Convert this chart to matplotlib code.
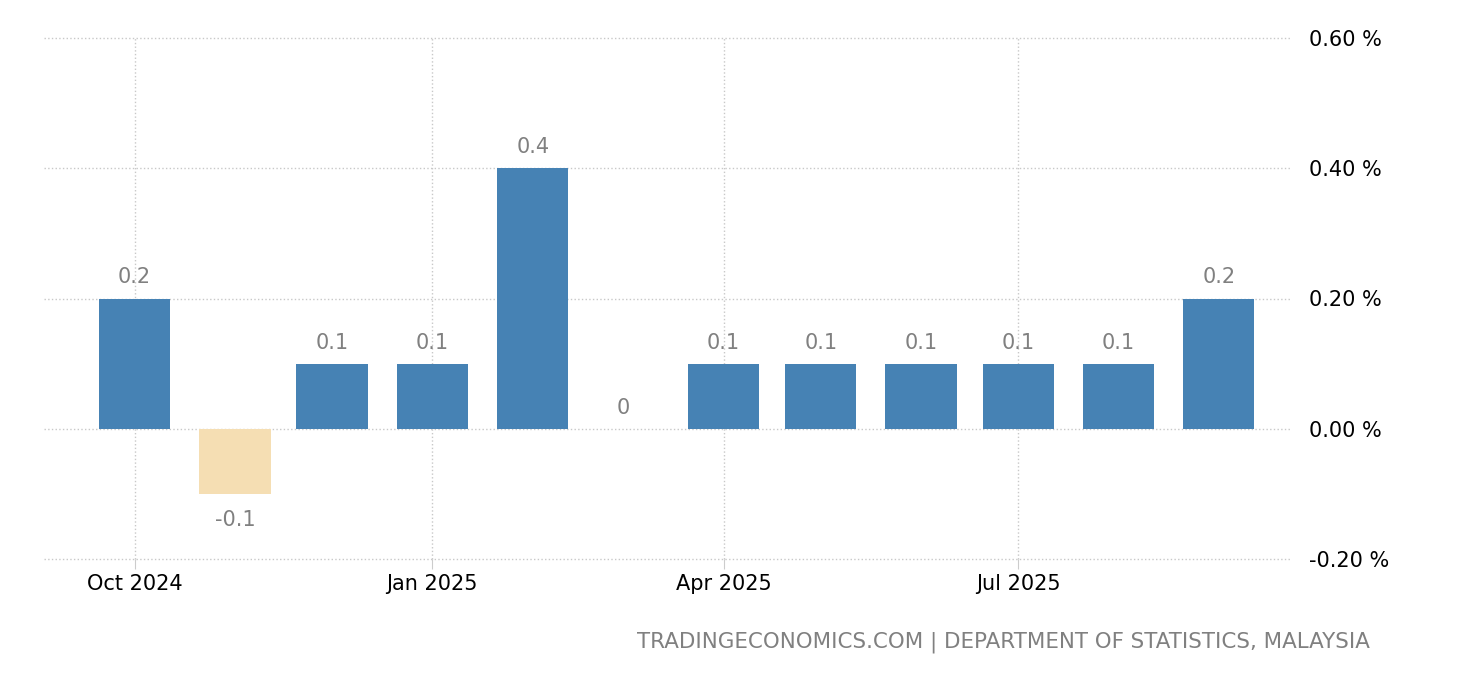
import datetime as dt
import matplotlib
matplotlib.use('Agg')
import matplotlib.pyplot as plt
import matplotlib.dates as mdates
from matplotlib.ticker import FixedLocator

months = ['2024-10', '2024-11', '2024-12', '2025-01', '2025-02', '2025-03',
          '2025-04', '2025-05', '2025-06', '2025-07', '2025-08', '2025-09']
values = [0.2, -0.1, 0.1, 0.1, 0.4, 0.0, 0.1, 0.1, 0.1, 0.1, 0.1, 0.2]
yticks = [-0.2, 0.0, 0.2, 0.4, 0.6]
xtick_months = ['2024-10', '2025-01', '2025-04', '2025-07']
source = 'TRADINGECONOMICS.COM | DEPARTMENT OF STATISTICS, MALAYSIA'

dates = [dt.datetime.strptime(m, '%Y-%m') for m in months]
xt = [dt.datetime.strptime(m, '%Y-%m') for m in xtick_months]

plt.rcParams['font.family'] = ['DejaVu Sans']
fig = plt.figure(figsize=(14.6, 6.8), dpi=100)
ax = fig.add_axes([44/1460, 121/680, (1290-44)/1460, (559-38)/680])

colors = ['#4682b4' if v >= 0 else '#f5deb3' for v in values]
ax.bar(dates, values, width=22, color=colors, zorder=3)

for d, v in zip(dates, values):
    if v > 0:
        ax.text(d, v + 0.017, '%g' % v, ha='center', va='bottom', fontsize=15, color='#808080')
    elif v < 0:
        ax.text(d, v - 0.024, '%g' % v, ha='center', va='top', fontsize=15, color='#808080')
    else:
        ax.text(d, 0.017, '0', ha='center', va='bottom', fontsize=15, color='#808080')

ax.set_ylim(-0.2, 0.6)
ax.set_xlim(dt.datetime(2024, 9, 3), dt.datetime(2025, 9, 23))
ax.yaxis.set_major_locator(FixedLocator(yticks))
ax.set_yticklabels(['%.2f %%' % t for t in yticks])
ax.yaxis.tick_right()
ax.tick_params(axis='y', length=0, pad=14, labelsize=15, colors='black')
ax.set_xticks(xt)
ax.xaxis.set_major_formatter(mdates.DateFormatter('%b %Y'))
ax.tick_params(axis='x', length=7, color='#cccccc', labelsize=15, pad=4)

ax.grid(True, color='#c8c8c8', linestyle=':', linewidth=1, zorder=0)
for line in ax.get_ygridlines() + ax.get_xgridlines():
    line.set_clip_on(False)
for s in ax.spines.values():
    s.set_visible(False)

fig.text(1370/1460, 1 - 642/680, source, ha='right', va='center', fontsize=15.4, color='#808080')

fig.savefig('out.png', dpi=100)
